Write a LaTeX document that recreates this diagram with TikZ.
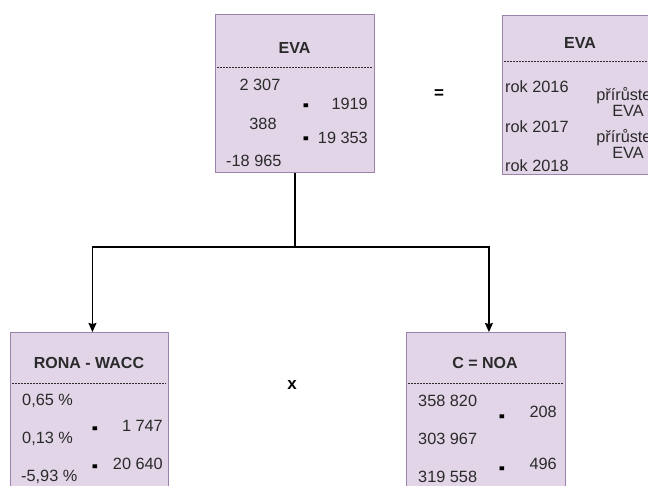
\documentclass[tikz,border=0pt]{standalone}
\usepackage{fontspec}
\setmainfont{Liberation Sans}
\newfontfamily\symfont{DejaVu Sans}
\usetikzlibrary{arrows.meta}
\definecolor{boxfill}{HTML}{E1D5E7}
\definecolor{boxline}{HTML}{9A82A8}
\definecolor{txtc}{HTML}{2A2A2A}
\tikzset{
  box/.style={draw=boxline, fill=boxfill, line width=0.9pt, rectangle, inner sep=0pt, anchor=north west},
  sep/.style={draw=txtc, line width=0.8pt, dash pattern=on 2pt off 1pt},
  t/.style={font=\fontsize{16.3}{18}\selectfont, text=txtc, inner sep=0pt},
  ttl/.style={font=\fontsize{16}{18}\selectfont\bfseries, text=txtc, inner sep=0pt},
  mk/.style={font=\symfont\fontsize{7.5}{8}\selectfont, text=black, inner sep=0pt, yshift=-3pt},
  op/.style={font=\fontsize{17}{18}\selectfont\bfseries, text=black, inner sep=0pt},
  arr/.style={draw=black, line width=1.2pt, -{Stealth[length=9pt,width=8pt,inset=1pt]}},
  ln/.style={draw=black, line width=1.2pt}
}
\newcommand{\sq}{\scalebox{0.8}[1.4]{▬}}
\begin{document}
\begin{tikzpicture}[x=1pt,y=-1pt]
\useasboundingbox (0,0) rectangle (648,485);
\clip (0,0) rectangle (648,485);
\fill[white] (0,0) rectangle (648,485);

% top EVA box
\node[box, minimum width=159pt, minimum height=158pt] (eva) at (215,14) {};
\node[ttl] (evat) at (294.5,48) {EVA};
\draw[sep] (217,67) -- (372,67);
\node[t] (e1) at (260,85) {2 307};
\node[t, anchor=east] (e2) at (368,104) {1919};
\node[t] (e3) at (263,124) {388};
\node[t, anchor=east] (e4) at (368,138) {19 353};
\node[t, anchor=west] (e5) at (226,161) {-18 965};
\node[mk] (em1) at (306,103) {\sq};
\node[mk] (em2) at (306,136) {\sq};

% equals
\node[op] (eq) at (439,94) {=};

% right EVA box
\node[box, minimum width=158pt, minimum height=159pt] (evr) at (502,15) {};
\node[ttl] (evrt) at (580,43) {EVA};
\draw[sep] (504,61) -- (660,61);
\node[t, anchor=west] (r1) at (505,87) {rok 2016};
\node[t, anchor=west] (r2) at (505,127) {rok 2017};
\node[t, anchor=west] (r3) at (505,166) {rok 2018};
\node[t, align=center] (p1) at (628,102) {přírůstek\\[-2pt]EVA};
\node[t, align=center] (p2) at (628,144) {přírůstek\\[-2pt]EVA};

% bottom left box
\node[box, minimum width=158pt, minimum height=170pt] (rona) at (10,332) {};
\node[ttl] (ronat) at (89,363) {RONA - WACC};
\draw[sep] (12,383) -- (166,383);
\node[t, anchor=west] (b1) at (22,401) {0,65 \%};
\node[t, anchor=east] (b2) at (163,426) {1 747};
\node[t, anchor=west] (b3) at (22,439) {0,13 \%};
\node[t, anchor=east] (b4) at (163,464) {20 640};
\node[t, anchor=west] (b5) at (21,477) {-5,93 \%};
\node[mk] (bm1) at (95,426) {\sq};
\node[mk] (bm2) at (95,464) {\sq};

% times
\node[op] (times) at (292,385) {x};

% bottom right box
\node[box, minimum width=159pt, minimum height=170pt] (noa) at (406,332) {};
\node[ttl] (noat) at (485,363) {C = NOA};
\draw[sep] (408,383) -- (563,383);
\node[t, anchor=west] (c1) at (418,401) {358 820};
\node[t, anchor=east] (c2) at (557,412) {208};
\node[t, anchor=west] (c3) at (418,439) {303 967};
\node[t, anchor=east] (c4) at (557,464) {496};
\node[t, anchor=west] (c5) at (418,477) {319 558};
\node[mk] (cm1) at (502,414) {\sq};
\node[mk] (cm2) at (502,466) {\sq};

% connectors
\coordinate (j) at (eva.south |- 0,247);
\draw[ln] (eva.south) -- (j);
\draw[arr] (j) -| ([xshift=3pt]rona.north);
\draw[arr] (j) -| ([xshift=3pt]noa.north);
\end{tikzpicture}
\end{document}
